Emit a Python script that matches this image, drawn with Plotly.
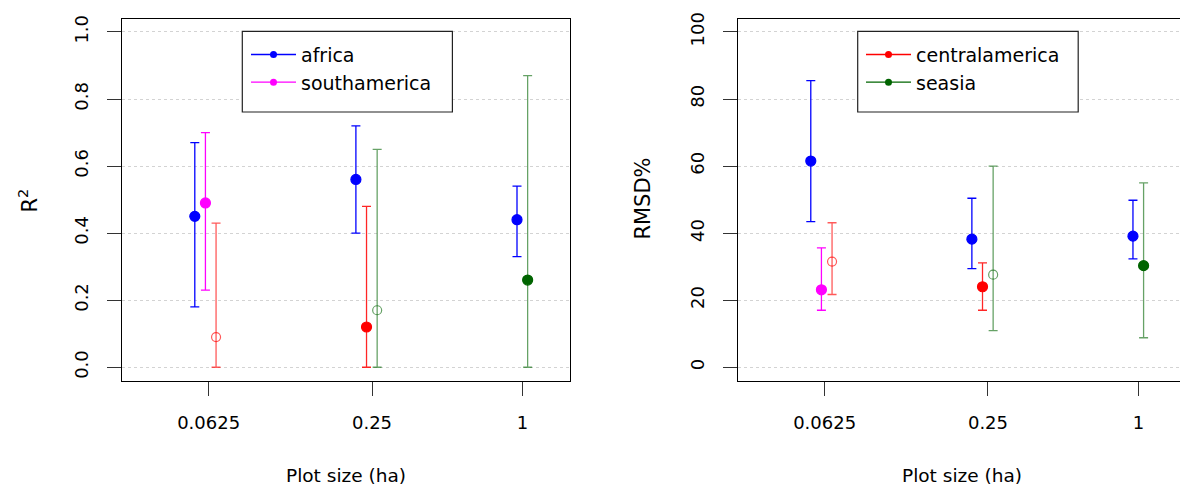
import plotly.graph_objects as go

# ---------------- data ----------------
PLOT_SIZES = ["0.0625", "0.25", "1"]
REGIONS = ["africa", "southamerica", "centralamerica", "seasia"]

# R2 (point, lower, upper) per plot size; None = not available
r2_africa = [0.45, 0.56, 0.44]
r2_africa_lo = [0.18, 0.40, 0.33]
r2_africa_hi = [0.67, 0.72, 0.54]
r2_southamerica = [0.49, None, None]
r2_southamerica_lo = [0.23, None, None]
r2_southamerica_hi = [0.70, None, None]
r2_centralamerica = [0.09, 0.12, None]
r2_centralamerica_lo = [0.0, 0.0, None]
r2_centralamerica_hi = [0.43, 0.48, None]
r2_seasia = [None, 0.17, 0.26]
r2_seasia_lo = [None, 0.0, 0.0]
r2_seasia_hi = [None, 0.65, 0.87]

# RMSD% (point, lower, upper)
rmsd_africa = [61.5, 38.2, 39.1]
rmsd_africa_lo = [43.4, 29.4, 32.3]
rmsd_africa_hi = [85.5, 50.4, 49.8]
rmsd_southamerica = [23.1, None, None]
rmsd_southamerica_lo = [17.0, None, None]
rmsd_southamerica_hi = [35.6, None, None]
rmsd_centralamerica = [31.5, 24.0, None]
rmsd_centralamerica_lo = [21.7, 17.0, None]
rmsd_centralamerica_hi = [43.1, 31.1, None]
rmsd_seasia = [None, 27.6, 30.3]
rmsd_seasia_lo = [None, 10.9, 8.8]
rmsd_seasia_hi = [None, 60.0, 55.0]

# filled (True) vs open (False) symbol
sig_africa = [True, True, True]
sig_southamerica = [True, None, None]
sig_centralamerica = [False, True, None]
sig_seasia = [None, False, True]

R2_TICKS = [0.0, 0.2, 0.4, 0.6, 0.8, 1.0]
RMSD_TICKS = [0, 20, 40, 60, 80, 100]

# ---------------- styles ----------------
W, H = 1180, 489
FONT = "DejaVu Sans"
COL = {
    "africa": ("#0000FF", "#0000FF", "#0000FF"),
    "southamerica": ("#FF00FF", "#FF00FF", "#FF00FF"),
    "centralamerica": ("#FF0000", "rgba(255,0,0,0.65)", "rgba(255,0,0,0.85)"),
    "seasia": ("#006400", "rgba(0,100,0,0.6)", "rgba(0,100,0,0.6)"),
}
SLOT = 0.066
TICK_POS = [0.086, 1.10, 2.034]

r2 = {
    "africa": (r2_africa, r2_africa_lo, r2_africa_hi),
    "southamerica": (r2_southamerica, r2_southamerica_lo, r2_southamerica_hi),
    "centralamerica": (r2_centralamerica, r2_centralamerica_lo, r2_centralamerica_hi),
    "seasia": (r2_seasia, r2_seasia_lo, r2_seasia_hi),
}
rmsd = {
    "africa": (rmsd_africa, rmsd_africa_lo, rmsd_africa_hi),
    "southamerica": (rmsd_southamerica, rmsd_southamerica_lo, rmsd_southamerica_hi),
    "centralamerica": (rmsd_centralamerica, rmsd_centralamerica_lo, rmsd_centralamerica_hi),
    "seasia": (rmsd_seasia, rmsd_seasia_lo, rmsd_seasia_hi),
}
sig = {
    "africa": sig_africa,
    "southamerica": sig_southamerica,
    "centralamerica": sig_centralamerica,
    "seasia": sig_seasia,
}

fig = go.Figure()


def add_panel(data, xa, ya):
    for g in range(len(PLOT_SIZES)):
        slot = 0
        for reg in REGIONS:
            v, lo, hi = data[reg][0][g], data[reg][1][g], data[reg][2][g]
            if v is None:
                continue
            filled = sig[reg][g]
            base, open_bar, fill_bar = COL[reg]
            barcol = fill_bar if filled else open_bar
            x = g + slot * SLOT
            slot += 1
            fig.add_trace(go.Scatter(
                x=[x], y=[v], xaxis=xa, yaxis=ya, mode="markers", showlegend=False,
                marker=dict(
                    symbol="circle" if filled else "circle-open",
                    size=10 if filled else 9,
                    color=base if filled else barcol,
                    line=dict(width=1.2, color=base if filled else barcol),
                ),
                error_y=dict(type="data", symmetric=False, array=[hi - v],
                             arrayminus=[v - lo], color=barcol, thickness=1.3, width=4.5),
                hoverinfo="skip",
            ))


add_panel(r2, "x", "y")
add_panel(rmsd, "x2", "y2")

for reg, leg in [("africa", "legend"), ("southamerica", "legend"),
                 ("centralamerica", "legend2"), ("seasia", "legend2")]:
    xa, ya = ("x", "y") if leg == "legend" else ("x2", "y2")
    fig.add_trace(go.Scatter(
        x=[None], y=[None], xaxis=xa, yaxis=ya, mode="lines+markers", name=reg,
        legend=leg, line=dict(color=COL[reg][0], width=1.3),
        marker=dict(color=COL[reg][0], size=7),
    ))

axis_common = dict(
    showline=True, linecolor="black", linewidth=1, ticks="outside", ticklen=14,
    tickcolor="#333", tickwidth=1, zeroline=False,
    tickfont=dict(family=FONT, size=18, color="black"),
)

yd = [1 - 379.3 / H, 1 - 12.7 / H]
legend_common = dict(xanchor="left", yanchor="top", bgcolor="rgba(0,0,0,0)",
                     borderwidth=0, itemwidth=45,
                     font=dict(family=FONT, size=19, color="black"))
fig.update_layout(
    width=W, height=H, margin=dict(l=0, r=0, t=0, b=0),
    paper_bgcolor="white", plot_bgcolor="white",
    font=dict(family=FONT, size=18, color="black"),
    xaxis=dict(domain=[122.3 / W, 570 / W], range=[-0.450, 2.329], tickvals=TICK_POS,
               ticktext=PLOT_SIZES, showgrid=False, mirror=True,
               ticklabelstandoff=12, **axis_common),
    yaxis=dict(domain=yd, range=[-0.04, 1.04], tickvals=R2_TICKS,
               ticktext=[f"{t:.1f}" for t in R2_TICKS], tickangle=-90, mirror=True,
               showgrid=True, gridcolor="#d3d3d3", griddash="dot", gridwidth=1,
               ticklabelstandoff=12, **axis_common),
    xaxis2=dict(domain=[738.3 / W, 1.0], range=[-0.450, 2.292], tickvals=TICK_POS,
                ticktext=PLOT_SIZES, showgrid=False, mirror=True,
                ticklabelstandoff=12, anchor="y2", **axis_common),
    yaxis2=dict(domain=yd, range=[-4, 104], tickvals=RMSD_TICKS,
                ticktext=[str(t) for t in RMSD_TICKS], tickangle=-90, mirror=False,
                showgrid=True, gridcolor="#d3d3d3", griddash="dot", gridwidth=1,
                ticklabelstandoff=12, anchor="x2", **axis_common),
    legend=dict(x=246 / W, y=1 - 30 / H, **legend_common),
    legend2=dict(x=861 / W, y=1 - 30 / H, **legend_common),
    showlegend=True,
)

# legend frames
for x0, x1 in [(242.3, 452.4), (857.7, 1078.2)]:
    fig.add_shape(type="rect", xref="paper", yref="paper",
                  x0=x0 / W, x1=x1 / W, y0=1 - 107.3 / H, y1=1 - 25.7 / H,
                  line=dict(color="#222", width=1.2), fillcolor="white", layer="above")

# axis titles
for txt, x, y, ang, size in [
    ("R<sup>2</sup>", 28, 197, -90, 21),
    ("RMSD%", 643, 195, -90, 21),
    ("Plot size (ha)", 346.2, 475, 0, 18.5),
    ("Plot size (ha)", 962, 475, 0, 18.5),
]:
    fig.add_annotation(text=txt, x=x / W, y=1 - y / H, xref="paper", yref="paper",
                       showarrow=False, textangle=ang, xanchor="center", yanchor="middle",
                       font=dict(family=FONT, size=size, color="black"))

fig.write_html("out.html", config={"displayModeBar": False},
               post_script="document.body.style.margin='0px';")
